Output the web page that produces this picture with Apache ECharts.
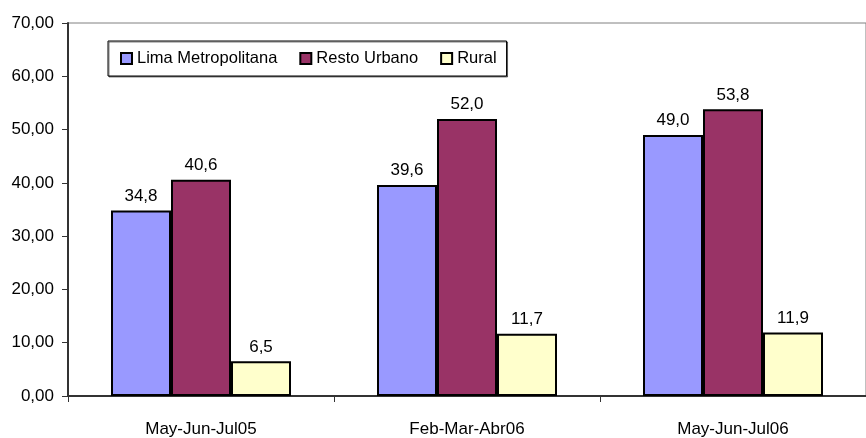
<!DOCTYPE html>
<html>
<head>
<meta charset="utf-8">
<script src="https://cdn.jsdelivr.net/npm/echarts@6/dist/echarts.min.js"></script>
<style>
  html, body { margin: 0; padding: 0; background: #fff; }
  #chart { width: 866px; height: 438px; }
</style>
</head>
<body>
<div id="chart"></div>
<script>
const categories = ['May-Jun-Jul05', 'Feb-Mar-Abr06', 'May-Jun-Jul06'];
const limaMetropolitana = [34.8, 39.6, 49.0];
const restoUrbano = [40.6, 52.0, 53.8];
const rural = [6.5, 11.7, 11.9];
const seriesNames = ['Lima Metropolitana', 'Resto Urbano', 'Rural'];

const FONT = '"Liberation Sans Narrow", "Arial Narrow", "Liberation Sans", Arial, sans-serif';
const colors = ['#9999FF', '#993366', '#FFFFCC'];

const chart = echarts.init(document.getElementById('chart'));

const makeSeries = (name, data, color) => ({
  name,
  type: 'bar',
  data,
  barWidth: 60,
  barGap: 0,
  itemStyle: { color, borderColor: '#000', borderWidth: 2 },
  label: {
    show: true,
    position: 'top',
    distance: 6,
    color: '#000',
    fontFamily: FONT,
    fontSize: 17,
    formatter: p => p.value.toFixed(1).replace('.', ',')
  },
  emphasis: { disabled: true }
});

chart.setOption({
  animation: false,
  backgroundColor: '#fff',
  textStyle: { fontFamily: FONT },
  legend: {
    left: 108,
    top: 41,
    itemWidth: 11,
    itemHeight: 11,
    itemGap: 22,
    padding: [9, 10, 9, 12],
    borderColor: '#000',
    borderWidth: 1,
    backgroundColor: '#fff',
    shadowColor: 'rgba(0,0,0,0.5)',
    shadowOffsetX: 1,
    shadowOffsetY: 1,
    textStyle: { fontFamily: FONT, fontSize: 16.5, color: '#000' },
    itemStyle: { borderColor: '#000', borderWidth: 2 },
    data: seriesNames.map(n => ({ name: n, icon: 'rect' }))
  },
  grid: {
    left: 68,
    top: 23,
    width: 810,
    height: 377,
    show: true,
    borderColor: '#808080',
    borderWidth: 1,
    backgroundColor: 'transparent'
  },
  xAxis: {
    type: 'category',
    data: categories,
    axisLine: { lineStyle: { color: '#333', width: 2 } },
    axisTick: { show: true, length: 6, inside: false, lineStyle: { color: '#333', width: 1 } },
    axisLabel: { color: '#000', fontFamily: FONT, fontSize: 17, margin: 25 },
    splitLine: { show: false }
  },
  yAxis: {
    type: 'value',
    min: 0,
    max: 70,
    interval: 10,
    axisLine: { show: true, lineStyle: { color: '#333', width: 2 } },
    axisTick: { show: true, length: 6, lineStyle: { color: '#333', width: 1 } },
    axisLabel: {
      color: '#000',
      fontFamily: FONT,
      fontSize: 17,
      margin: 14,
      formatter: v => v.toFixed(2).replace('.', ',')
    },
    splitLine: { show: false }
  },
  series: [
    makeSeries(seriesNames[0], limaMetropolitana, colors[0]),
    makeSeries(seriesNames[1], restoUrbano, colors[1]),
    makeSeries(seriesNames[2], rural, colors[2])
  ]
});
</script>
</body>
</html>
